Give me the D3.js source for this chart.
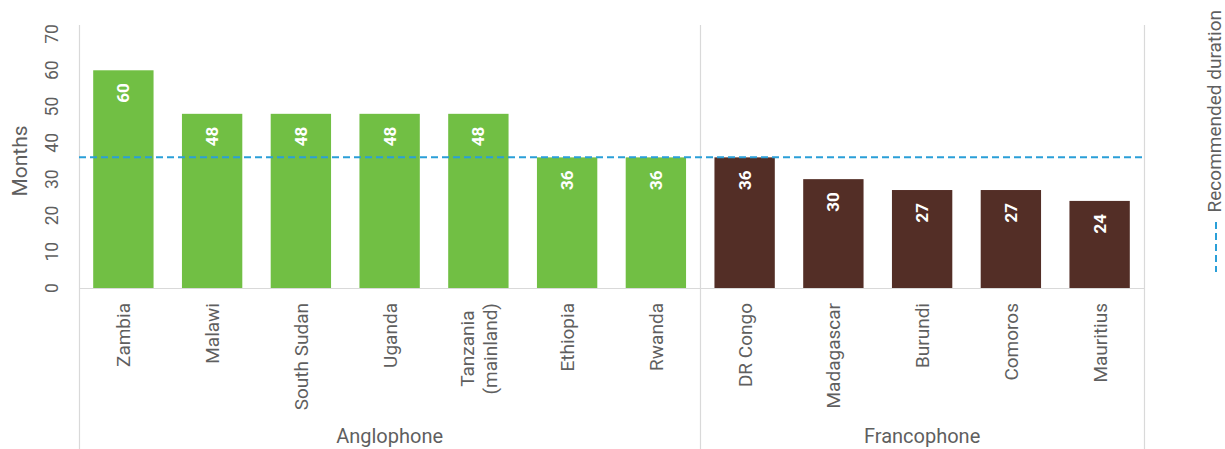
<!DOCTYPE html>
<html>
<head>
<meta charset="utf-8">
<script src="https://cdn.jsdelivr.net/npm/d3@7/dist/d3.min.js"></script>
<style>
  body { margin: 0; background: #fff; }
  svg { display: block; font-family: Roboto, "Noto Sans", sans-serif; }
</style>
</head>
<body>
<svg id="chart" width="1225" height="449"></svg>
<script>
// Maximum duration of permitted sessions, by country (months)
const countries = ["Zambia", "Malawi", "South Sudan", "Uganda", "Tanzania\n(mainland)", "Ethiopia", "Rwanda",
                   "DR Congo", "Madagascar", "Burundi", "Comoros", "Mauritius"];
const months = [60, 48, 48, 48, 48, 36, 36, 36, 30, 27, 27, 24];
const groupOf = ["Anglophone", "Anglophone", "Anglophone", "Anglophone", "Anglophone", "Anglophone", "Anglophone",
                 "Francophone", "Francophone", "Francophone", "Francophone", "Francophone"];
const groups = ["Anglophone", "Francophone"];
const recommended = [36];
const yTicks = [0, 10, 20, 30, 40, 50, 60, 70];

const groupColor = { Anglophone: "#71bf44", Francophone: "#532e26" };
const textColor = "#5f5f5f";
const lineColor = "#2a9fd8";

const svg = d3.select("#chart");
const plotLeft = 79, plotRight = 1144, plotTop = 34, base = 288, plotBottom = 449;

const x = d3.scaleBand().domain(d3.range(countries.length)).range([plotLeft, plotRight])
  .paddingInner(0.32).paddingOuter(0.16);
const y = d3.scaleLinear().domain([0, 70]).range([base, plotTop]);
const center = i => x(i) + x.bandwidth() / 2;

// Bars
svg.append("g").selectAll("rect").data(months).join("rect")
  .attr("x", (d, i) => x(i))
  .attr("y", d => y(d))
  .attr("width", x.bandwidth())
  .attr("height", d => y(0) - y(d))
  .attr("fill", (d, i) => groupColor[groupOf[i]]);

// Baseline
svg.append("line").attr("x1", plotLeft).attr("x2", plotRight).attr("y1", base + 0.5).attr("y2", base + 0.5)
  .attr("stroke", "#d9d9d9").attr("stroke-width", 1.2);

// Group extents along the category axis
const slot = (plotRight - plotLeft) / countries.length;
const groupBounds = groups.map(g => {
  const idx = groupOf.map((v, i) => v === g ? i : -1).filter(i => i >= 0);
  return { g, x0: plotLeft + idx[0] * slot, x1: plotLeft + (idx[idx.length - 1] + 1) * slot };
});
const seps = [plotLeft, ...groupBounds.map(b => b.x1)];
svg.append("g").selectAll("line").data(seps).join("line")
  .attr("x1", d => Math.round(d) + 0.5).attr("x2", d => Math.round(d) + 0.5)
  .attr("y1", 25).attr("y2", plotBottom)
  .attr("stroke", "#d9d9d9").attr("stroke-width", 1.2);

// Y axis tick labels (rotated)
svg.append("g").selectAll("text").data(yTicks).join("text")
  .attr("transform", d => `translate(58,${y(d)}) rotate(-90)`)
  .attr("text-anchor", "middle")
  .attr("font-size", 17.5).attr("fill", textColor)
  .text(d => d3.format("d")(d));

// Y title
svg.append("text").attr("transform", `translate(27,${(plotTop + base) / 2}) rotate(-90)`)
  .attr("text-anchor", "middle").attr("font-size", 21).attr("fill", textColor).text("Months");

// Recommended duration line
svg.append("line").attr("x1", plotLeft).attr("x2", plotRight)
  .attr("y1", y(recommended[0])).attr("y2", y(recommended[0]))
  .attr("stroke", lineColor).attr("stroke-width", 2).attr("stroke-dasharray", "7,4");

// Value labels in bars
svg.append("g").selectAll("text").data(months).join("text")
  .attr("transform", (d, i) => `translate(${center(i) + 6},${y(d) + 13}) rotate(-90)`)
  .attr("text-anchor", "end")
  .attr("font-size", 17).attr("font-weight", "bold").attr("fill", "#ffffff")
  .text(d => d);

// Category labels (rotated; multi-line labels centred on their longest line)
const catSize = 19, lineH = 23, labelTop = base + 15;
const cat = svg.append("g").selectAll("text").data(countries).join("text")
  .attr("font-size", catSize).attr("fill", textColor)
  .attr("text-anchor", "middle");
cat.each(function(d, i) {
  const lines = d.split("\n");
  const t = d3.select(this);
  lines.forEach((ln, k) => {
    t.append("tspan").attr("x", 0)
      .attr("y", (k - (lines.length - 1) / 2) * lineH + 7)
      .text(ln);
  });
  const longest = d3.max(t.selectAll("tspan").nodes(), n => n.getComputedTextLength());
  t.attr("transform", `translate(${center(i)},${labelTop + longest / 2}) rotate(-90)`);
});

// Group labels
svg.append("g").selectAll("text").data(groupBounds).join("text")
  .attr("x", d => (d.x0 + d.x1) / 2).attr("y", 443)
  .attr("text-anchor", "middle").attr("font-size", 20).attr("fill", textColor)
  .text(d => d.g);

// Legend
svg.append("text").attr("transform", "translate(1221,10) rotate(-90)")
  .attr("text-anchor", "end").attr("font-size", 19).attr("fill", textColor).text("Recommended duration");
svg.append("line").attr("x1", 1216).attr("x2", 1216).attr("y1", 222).attr("y2", 272)
  .attr("stroke", lineColor).attr("stroke-width", 2).attr("stroke-dasharray", "7,4");
</script>
</body>
</html>
